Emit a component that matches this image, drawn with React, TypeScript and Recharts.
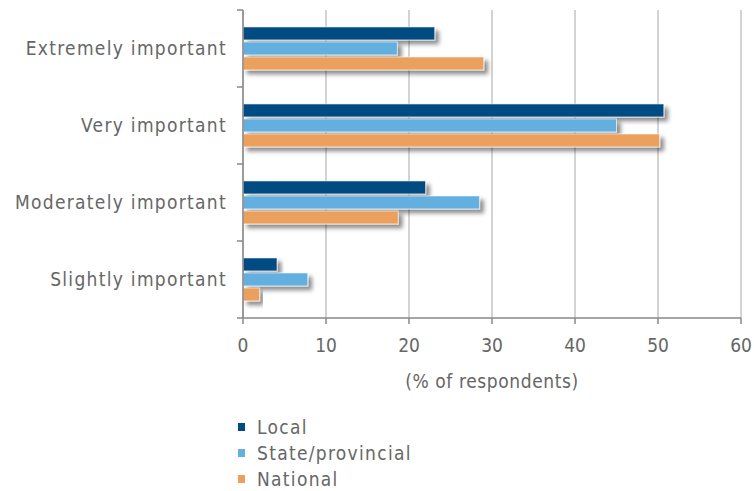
import React from "react";
import { BarChart, Bar, XAxis, YAxis, CartesianGrid, Legend } from "recharts";

const categories = ["Extremely important", "Very important", "Moderately important", "Slightly important"];
const localValues = [23.1, 50.7, 22.0, 4.1];
const stateValues = [18.6, 45.0, 28.5, 7.8];
const nationalValues = [29.0, 50.2, 18.7, 2.0];
const seriesNames = ["Local", "State/provincial", "National"];
const xTicks = [0, 10, 20, 30, 40, 50, 60];
const axisTitle = "(% of respondents)";

const COLORS = ["#004b82", "#64b0e0", "#eba05d"];
const FONT = "'DejaVu Sans Condensed', 'DejaVu Sans', sans-serif";
const TEXT = "#666";

const data = categories.map((c, i) => ({
  cat: c,
  local: localValues[i],
  state: stateValues[i],
  national: nationalValues[i],
}));

const TICK_SIZE = 6;
const TICK_MARGIN = 10;

const YTick = (props: any) => {
  const { x, y, payload, index, visibleTicksCount } = props;
  const axisX = x + TICK_SIZE + TICK_MARGIN;
  const off = payload.offset || 0;
  const isLast = index === visibleTicksCount - 1;
  return (
    <g>
      <line x1={axisX - TICK_SIZE} x2={axisX} y1={y - off} y2={y - off} stroke="#888" strokeWidth={1.5} />
      {isLast && (
        <line x1={axisX - TICK_SIZE} x2={axisX} y1={y + off} y2={y + off} stroke="#888" strokeWidth={1.5} />
      )}
      <text x={x} y={y} dy="0.36em" textAnchor="end" fill={TEXT} fontFamily={FONT} fontSize={19} letterSpacing={1.3}>
        {payload.value}
      </text>
    </g>
  );
};

const ShadowBar = (props: any) => {
  const { x, y, width, height, fill } = props;
  if (!width || width <= 0) return null;
  return (
    <rect x={x} y={y} width={width} height={height} fill={fill} stroke="#ffffff" strokeOpacity={0.6} strokeWidth={1} filter="url(#barShadow)" />
  );
};

const LegendContent = () => (
  <div style={{ fontFamily: FONT, fontSize: 19, letterSpacing: 1.3, color: TEXT }}>
    {seriesNames.map((n, i) => (
      <div key={n} style={{ display: "flex", alignItems: "center", height: 26 }}>
        <span style={{ display: "inline-block", width: 7, height: 8, background: COLORS[i], marginRight: 12 }} />
        <span>{n}</span>
      </div>
    ))}
  </div>
);

export default function App() {
  return (
    <div style={{ position: "fixed", left: 0, top: 0, width: 754, height: 491, background: "#fff", overflow: "hidden" }}>
      <BarChart
        width={754}
        height={491}
        data={data}
        layout="vertical"
        margin={{ top: 10, right: 13, bottom: 99, left: 0 }}
        barCategoryGap="22%"
        barGap={2}
        style={{ overflow: "visible" }}
      >
        <defs>
          <filter id="barShadow" x="-10%" y="-50%" width="130%" height="250%">
            <feDropShadow dx="4" dy="4" stdDeviation="2.2" floodColor="#000" floodOpacity="0.45" />
          </filter>
        </defs>
        <CartesianGrid horizontal={false} stroke="#c4c4c4" strokeWidth={1.5} />
        <XAxis
          xAxisId="top"
          orientation="top"
          type="number"
          domain={[0, 60]}
          ticks={xTicks}
          tick={false}
          tickLine={false}
          axisLine={{ stroke: "#cfcfcf", strokeWidth: 1.5 }}
          height={0}
        />
        <XAxis
          type="number"
          domain={[0, 60]}
          ticks={xTicks}
          tickSize={6}
          tickMargin={15}
          axisLine={{ stroke: "#888", strokeWidth: 1.5 }}
          tickLine={{ stroke: "#888", strokeWidth: 1.5 }}
          tick={{ fill: TEXT, fontFamily: FONT, fontSize: 19 }}
          height={74}
          label={{ value: axisTitle, position: "insideBottom", offset: 4, fill: TEXT, fontFamily: FONT, fontSize: 19, letterSpacing: 0.6 }}
        />
        <YAxis
          type="category"
          dataKey="cat"
          width={243}
          tickSize={TICK_SIZE}
          tickMargin={TICK_MARGIN}
          tickLine={false}
          axisLine={{ stroke: "#888", strokeWidth: 1.5 }}
          tick={<YTick />}
          interval={0}
        />
        <Legend
          layout="horizontal"
          verticalAlign="middle"
          align="center"
          content={<LegendContent />}
          wrapperStyle={{ position: "absolute", left: 238, top: 414, width: 250, height: 76 }}
        />
        <Bar dataKey="local" name={seriesNames[0]} fill={COLORS[0]} shape={<ShadowBar />} isAnimationActive={false} />
        <Bar dataKey="state" name={seriesNames[1]} fill={COLORS[1]} shape={<ShadowBar />} isAnimationActive={false} />
        <Bar dataKey="national" name={seriesNames[2]} fill={COLORS[2]} shape={<ShadowBar />} isAnimationActive={false} />
      </BarChart>
    </div>
  );
}
